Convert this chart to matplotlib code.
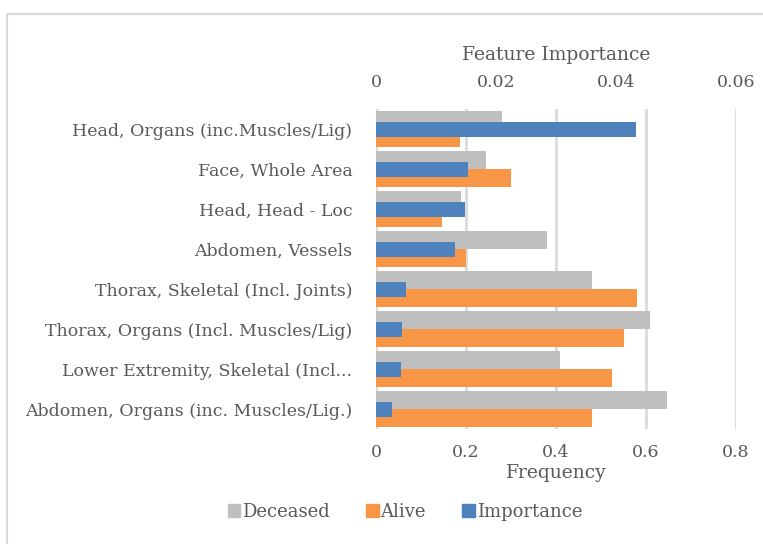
import matplotlib.pyplot as plt
import numpy as np
from matplotlib.patches import Patch, Rectangle

# categories, top to bottom
categories = [
    "Head, Organs (inc.Muscles/Lig)",
    "Face, Whole Area",
    "Head, Head - Loc",
    "Abdomen, Vessels",
    "Thorax, Skeletal (Incl. Joints)",
    "Thorax, Organs (Incl. Muscles/Lig)",
    "Lower Extremity, Skeletal (Incl...",
    "Abdomen, Organs (inc. Muscles/Lig.)",
]

# frequency (bottom axis)
deceased = [0.281, 0.245, 0.189, 0.381, 0.481, 0.608, 0.408, 0.646]
alive = [0.187, 0.299, 0.147, 0.200, 0.579, 0.550, 0.524, 0.481]
# feature importance (top axis)
importance = [0.0433, 0.0154, 0.0149, 0.0132, 0.0050, 0.0044, 0.0042, 0.0027]

freq_ticks = [0, 0.2, 0.4, 0.6, 0.8]
imp_ticks = [0, 0.02, 0.04, 0.06]

c_gray = '#BFBFBF'
c_orange = '#F79646'
c_blue = '#4F81BD'
c_text = '#595959'
c_grid = '#D9D9D9'

plt.rcParams['font.family'] = ['DejaVu Serif']

fig = plt.figure(figsize=(7.63, 5.44), dpi=100)
ax = fig.add_axes([376 / 763, 1 - 429 / 544, 360 / 763, 320 / 544])

y = np.arange(len(categories))
bar_h = 0.45

ax.barh(y - bar_h / 2, deceased, bar_h, color=c_gray, zorder=2)
ax.barh(y + bar_h / 2, alive, bar_h, color=c_orange, zorder=2)

ax.set_xlim(freq_ticks[0], freq_ticks[-1])
ax.set_ylim(len(categories) - 0.5, -0.5)
ax.set_xticks(freq_ticks)
ax.set_xticklabels(['0', '0.2', '0.4', '0.6', '0.8'])
ax.set_yticks(y)
ax.set_yticklabels(categories)
ax.xaxis.grid(True, color=c_grid, lw=2, zorder=0)
ax.set_axisbelow(True)
ax.tick_params(axis='both', length=0, labelsize=12.5, colors=c_text)
ax.tick_params(axis='x', pad=11)
ax.tick_params(axis='y', pad=17)
ax.set_xlabel("Frequency", fontsize=13.5, color=c_text, labelpad=2)
for s in ax.spines.values():
    s.set_visible(False)

ax2 = ax.twiny()
ax2.barh(y, importance, 0.375, color=c_blue, zorder=3)
ax2.set_xlim(imp_ticks[0], imp_ticks[-1])
ax2.set_xticks(imp_ticks)
ax2.set_xticklabels(['0', '0.02', '0.04', '0.06'])
ax2.tick_params(axis='x', length=0, labelsize=12.5, colors=c_text, pad=13)
ax2.set_xlabel("Feature Importance", fontsize=13.5, color=c_text, labelpad=10)
for s in ax2.spines.values():
    s.set_visible(False)

handles = [Patch(color=c_gray, label='Deceased'),
           Patch(color=c_orange, label='Alive'),
           Patch(color=c_blue, label='Importance')]
leg = fig.legend(handles=handles, loc='center', bbox_to_anchor=(405 / 763, 1 - 512 / 544),
                 ncol=3, frameon=False, fontsize=13, handlelength=0.7, handleheight=0.7,
                 handletextpad=0.1, columnspacing=2.0)
for t in leg.get_texts():
    t.set_color(c_text)

# chart border
fig.patches.append(Rectangle((7 / 763, -0.1), 2, 1 - 14 / 544 + 0.1, transform=fig.transFigure,
                             fill=False, ec=c_grid, lw=1.5))

fig.savefig("out.png", dpi=100)
